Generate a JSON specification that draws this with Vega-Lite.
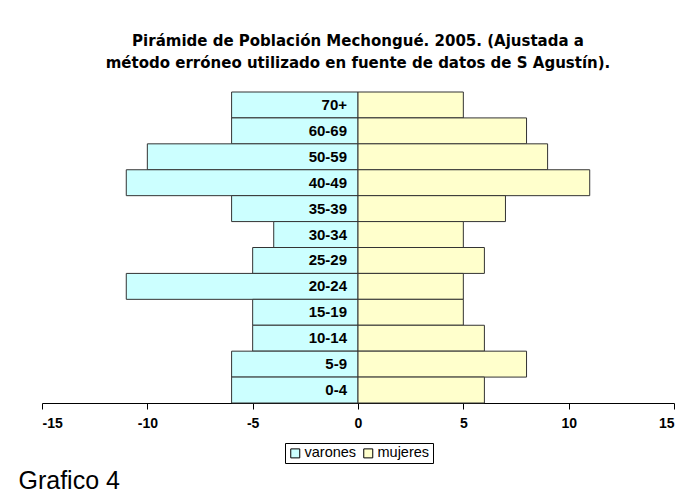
{
  "$schema": "https://vega.github.io/schema/vega-lite/v6.json",
  "width": 632,
  "height": 311,
  "autosize": {"type": "none"},
  "padding": {"left": 42, "top": 92, "right": 18, "bottom": 92},
  "background": "white",
  "config": {
    "view": {"stroke": null},
    "font": "Liberation Sans"
  },
  "title": {
    "text": ["Pirámide de Población Mechongué. 2005. (Ajustada a", "método erróneo utilizado en fuente de datos de S Agustín)."],
    "font": "DejaVu Sans",
    "fontSize": 15,
    "fontWeight": "bold",
    "color": "black",
    "lineHeight": 22,
    "offset": 21,
    "anchor": "middle"
  },
  "data": {
    "values": [
      {"edad": "70+", "sexo": "varones", "valor": -6},
      {"edad": "60-69", "sexo": "varones", "valor": -6},
      {"edad": "50-59", "sexo": "varones", "valor": -10},
      {"edad": "40-49", "sexo": "varones", "valor": -11},
      {"edad": "35-39", "sexo": "varones", "valor": -6},
      {"edad": "30-34", "sexo": "varones", "valor": -4},
      {"edad": "25-29", "sexo": "varones", "valor": -5},
      {"edad": "20-24", "sexo": "varones", "valor": -11},
      {"edad": "15-19", "sexo": "varones", "valor": -5},
      {"edad": "10-14", "sexo": "varones", "valor": -5},
      {"edad": "5-9", "sexo": "varones", "valor": -6},
      {"edad": "0-4", "sexo": "varones", "valor": -6},
      {"edad": "70+", "sexo": "mujeres", "valor": 5},
      {"edad": "60-69", "sexo": "mujeres", "valor": 8},
      {"edad": "50-59", "sexo": "mujeres", "valor": 9},
      {"edad": "40-49", "sexo": "mujeres", "valor": 11},
      {"edad": "35-39", "sexo": "mujeres", "valor": 7},
      {"edad": "30-34", "sexo": "mujeres", "valor": 5},
      {"edad": "25-29", "sexo": "mujeres", "valor": 6},
      {"edad": "20-24", "sexo": "mujeres", "valor": 5},
      {"edad": "15-19", "sexo": "mujeres", "valor": 5},
      {"edad": "10-14", "sexo": "mujeres", "valor": 6},
      {"edad": "5-9", "sexo": "mujeres", "valor": 8},
      {"edad": "0-4", "sexo": "mujeres", "valor": 6}
    ]
  },
  "encoding": {
    "y": {
      "field": "edad",
      "type": "nominal",
      "sort": ["70+", "60-69", "50-59", "40-49", "35-39", "30-34", "25-29", "20-24", "15-19", "10-14", "5-9", "0-4"],
      "scale": {"paddingInner": 0, "paddingOuter": 0},
      "axis": null
    }
  },
  "layer": [
    {
      "mark": {"type": "bar", "stroke": "#333333", "strokeWidth": 1},
      "encoding": {
        "x": {
          "field": "valor",
          "type": "quantitative",
          "scale": {"domain": [-15, 15], "nice": false},
          "axis": {
            "values": [-15, -10, -5, 0, 5, 10, 15],
            "labelExpr": "'' + datum.value",
            "grid": false,
            "domainColor": "black",
            "tickColor": "black",
            "tickSize": 6,
            "labelFont": "Liberation Sans",
            "labelFontWeight": "bold",
            "labelFontSize": 14,
            "labelColor": "black",
            "labelPadding": 7,
            "title": "Grafico 4",
            "titleFont": "Liberation Sans",
            "titleFontSize": 25,
            "titleFontWeight": "normal",
            "titleColor": "black",
            "titleAnchor": "start",
            "titleAlign": "left",
            "titleBaseline": "alphabetic",
            "titleX": -24,
            "titleY": 85
          }
        },
        "color": {
          "field": "sexo",
          "type": "nominal",
          "scale": {"domain": ["varones", "mujeres"], "range": ["#CCFFFF", "#FFFFCC"]},
          "legend": {
            "orient": "none",
            "legendX": 243,
            "legendY": 351,
            "direction": "horizontal",
            "title": null,
            "strokeColor": "black",
            "padding": 3,
            "symbolType": "square",
            "symbolSize": 81,
            "symbolStrokeColor": "black",
            "symbolStrokeWidth": 1,
            "labelFont": "Liberation Sans",
            "labelFontSize": 14.5,
            "labelColor": "black",
            "labelOffset": 2,
            "columnPadding": 4
          }
        }
      }
    },
    {
      "transform": [{"filter": "datum.sexo === 'varones'"}],
      "mark": {"type": "text", "align": "right", "baseline": "middle", "dx": -11, "font": "Liberation Sans", "fontWeight": "bold", "fontSize": 15, "color": "black"},
      "encoding": {
        "x": {"datum": 0},
        "text": {"field": "edad"}
      }
    }
  ]
}
